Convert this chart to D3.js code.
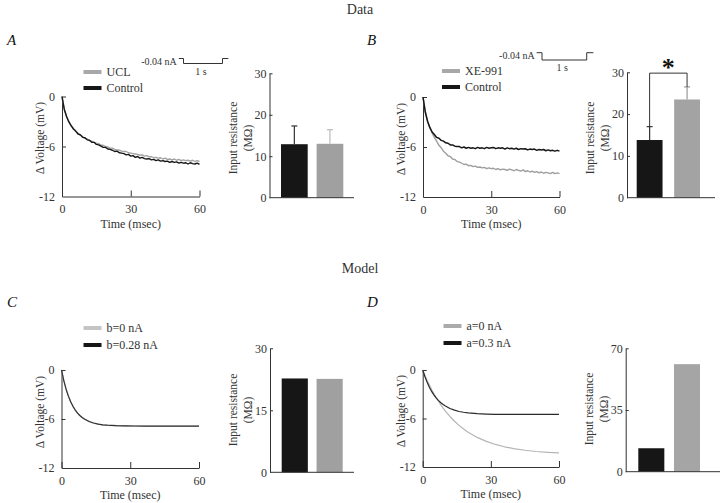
<!DOCTYPE html>
<html><head><meta charset="utf-8">
<script src="https://cdn.jsdelivr.net/npm/d3@7"></script>
<style>
body{margin:0;background:#fff}
svg{display:block;background:#fff}
text{font-family:"Liberation Serif","Times New Roman",serif}
</style>
</head><body>
<svg id="c" width="720" height="503"></svg>
<script>
// ---------- DATA ----------
const timeTicks = [0, 30, 60];
const voltTicks = [0, -6, -12];
const timeData = [0,1,2,3,4,5,6,7,8,9,10,11,12,13,14,15,16,17,18,19,20,21,22,23,24,25,26,27,28,29,30,
  31,32,33,34,35,36,37,38,39,40,41,42,43,44,45,46,47,48,49,50,51,52,53,54,55,56,57,58,59,60];

const controlA = [0,-1.55,-2.4,-3.05,-3.5,-3.9,-4.15,-4.5,-4.6,-4.9,-4.95,-5.2,-5.25,-5.5,-5.5,-5.75,-5.8,-5.95,-6.1,-6.1,-6.3,
  -6.35,-6.45,-6.6,-6.55,-6.75,-6.8,-6.85,-7.0,-6.95,-7.15,-7.1,-7.3,-7.2,-7.4,-7.3,-7.45,-7.5,-7.45,-7.6,-7.55,
  -7.7,-7.6,-7.75,-7.7,-7.8,-7.75,-7.9,-7.8,-7.9,-7.85,-8.0,-7.9,-8.0,-7.95,-8.1,-7.95,-8.05,-8.1,-8.0,-8.15];
const uclA = [0,-1.5,-2.45,-3.0,-3.55,-3.85,-4.2,-4.4,-4.65,-4.8,-5.0,-5.1,-5.3,-5.35,-5.5,-5.6,-5.65,-5.85,-5.85,-6.0,-6.05,
  -6.2,-6.2,-6.35,-6.4,-6.45,-6.55,-6.6,-6.6,-6.75,-6.8,-6.85,-6.9,-6.95,-7.05,-7.0,-7.15,-7.1,-7.25,-7.2,-7.35,
  -7.3,-7.4,-7.35,-7.5,-7.4,-7.55,-7.5,-7.6,-7.5,-7.65,-7.55,-7.7,-7.6,-7.7,-7.65,-7.75,-7.65,-7.8,-7.7,-7.8];
const controlB = [0,-1.8,-2.9,-3.65,-4.2,-4.5,-4.85,-4.95,-5.2,-5.3,-5.5,-5.55,-5.75,-5.75,-5.9,-5.95,-5.95,-6.1,-6.0,-6.15,-6.05,
  -6.15,-6.1,-6.2,-6.05,-6.15,-6.1,-6.2,-6.05,-6.15,-6.1,-6.05,-6.2,-6.1,-6.15,-6.1,-6.25,-6.1,-6.2,-6.15,-6.25,
  -6.15,-6.3,-6.2,-6.25,-6.2,-6.35,-6.25,-6.3,-6.25,-6.4,-6.3,-6.35,-6.3,-6.45,-6.35,-6.45,-6.4,-6.5,-6.4,-6.5];
const xe991B = [0,-1.75,-2.95,-3.7,-4.3,-4.85,-5.3,-5.8,-6.1,-6.5,-6.75,-7.05,-7.15,-7.45,-7.5,-7.75,-7.8,-7.95,-8.1,-8.05,-8.25,
  -8.2,-8.35,-8.3,-8.45,-8.4,-8.5,-8.45,-8.6,-8.5,-8.6,-8.55,-8.7,-8.6,-8.75,-8.65,-8.7,-8.8,-8.65,-8.75,-8.85,
  -8.7,-8.8,-8.9,-8.75,-8.95,-8.85,-9.0,-8.9,-9.05,-8.95,-9.1,-9.0,-9.15,-9.05,-9.1,-9.2,-9.05,-9.2,-9.1,-9.2];

const timeModel = [0,1,2,3,4,5,6,7,8,9,10,12,14,16,18,20,24,28,32,36,40,45,50,55,60];
const b0C   = [0,-1.28,-2.34,-3.19,-3.88,-4.44,-4.9,-5.27,-5.57,-5.81,-6.01,-6.3,-6.5,-6.63,-6.72,-6.77,-6.83,-6.86,-6.87,-6.88,-6.88,-6.88,-6.88,-6.88,-6.88];
const b028C = [0,-1.29,-2.35,-3.2,-3.89,-4.45,-4.9,-5.27,-5.57,-5.81,-6.01,-6.3,-6.49,-6.62,-6.71,-6.76,-6.82,-6.85,-6.86,-6.87,-6.87,-6.87,-6.87,-6.87,-6.87];
const a0D   = [0,-0.67,-1.3,-1.89,-2.45,-2.96,-3.45,-3.9,-4.32,-4.72,-5.09,-5.75,-6.34,-6.85,-7.3,-7.7,-8.34,-8.83,-9.21,-9.5,-9.72,-9.93,-10.08,-10.18,-10.26];
const a03D  = [0,-0.84,-1.56,-2.16,-2.68,-3.11,-3.48,-3.79,-4.05,-4.27,-4.46,-4.76,-4.97,-5.13,-5.23,-5.31,-5.4,-5.45,-5.48,-5.49,-5.5,-5.5,-5.5,-5.5,-5.5];

const barCatsA = ["Control", "UCL"];
const barValsA = [12.9, 13.0];
const barErrA  = [4.4, 3.4];
const barTicksA = [0, 10, 20, 30];
const barCatsB = ["Control", "XE-991"];
const barValsB = [13.8, 23.5];
const barErrB  = [3.2, 3.0];
const barTicksB = [0, 10, 20, 30];
const barCatsC = ["b=0.28 nA", "b=0 nA"];
const barValsC = [22.7, 22.6];
const barTicksC = [0, 15, 30];
const barCatsD = ["a=0.3 nA", "a=0 nA"];
const barValsD = [13.3, 61.0];
const barTicksD = [0, 35, 70];

const stimTime = [-0.12, 0, 0, 1, 1, 1.15];
const stimAmp  = [0, 0, -0.04, -0.04, 0, 0];

// ---------- DRAWING ----------
const svg = d3.select("#c");
const DARK = "#161616";
const TXT = "#333";
const fmt = d => String(d);

function styleAxis(sel, fs){
  sel.selectAll("path.domain").attr("stroke", "#333").attr("stroke-width", 1);
  sel.selectAll(".tick line").attr("stroke", "#333");
  sel.selectAll(".tick text").attr("font-size", fs).attr("fill", TXT)
     .attr("font-family", '"Liberation Serif","Times New Roman",serif');
}

function txt(g){ return g.append("text").attr("fill", TXT); }

function linePanel(o){
  const x = d3.scaleLinear().domain([0, 60]).range([o.left, o.right]);
  const y = d3.scaleLinear().domain([0, -12]).range([o.top, o.bottom]);
  const g = svg.append("g");
  const xa = g.append("g").attr("transform", `translate(0,${o.bottom})`)
    .call(d3.axisBottom(x).tickValues(timeTicks).tickFormat(fmt).tickSize(-6).tickSizeOuter(0).tickPadding(8));
  styleAxis(xa, 12);
  const ya = g.append("g").attr("transform", `translate(${o.left},0)`)
    .call(d3.axisLeft(y).tickValues(voltTicks).tickFormat(fmt).tickSize(-4).tickSizeOuter(0).tickPadding(7));
  styleAxis(ya, 12);
  ya.selectAll(".tick").filter(d => d === -12).select("line").remove();
  const line = d3.line().x(d => x(d[0])).y(d => y(d[1]));
  o.series.forEach(s => {
    g.append("path").datum(s.t.map((t, i) => [t, s.v[i]]))
      .attr("d", line).attr("fill", "none").attr("stroke", s.color)
      .attr("stroke-width", s.w).attr("stroke-linejoin", "round");
  });
  txt(g).attr("x", (o.left + o.right) / 2).attr("y", o.bottom + 31)
    .attr("text-anchor", "middle").attr("font-size", 12).text("Time (msec)");
  txt(g).attr("transform", `translate(${o.left - 22},${o.labelCy}) rotate(-90)`)
    .attr("text-anchor", "middle").attr("dy", "0.35em").attr("font-size", 11.5).text("\u0394 Voltage (mV)");
  o.legend.forEach((l, i) => {
    const ly = o.legY + i * o.legGap;
    g.append("line").attr("x1", o.legX).attr("x2", o.legX + 18).attr("y1", ly).attr("y2", ly)
      .attr("stroke", l.color).attr("stroke-width", 4);
    txt(g).attr("x", o.legX + 23).attr("y", ly).attr("dy", "0.35em")
      .attr("font-size", 12).text(l.label);
  });
}

function barPanel(o){
  const x = d3.scaleBand().domain(o.cats).range([o.b0, o.b1]).paddingInner(o.pad).paddingOuter(0);
  const y = d3.scaleLinear().domain([0, o.max]).range([o.bottom, o.top]);
  const g = svg.append("g");
  g.selectAll("rect.bar").data(o.cats).join("rect").attr("class", "bar")
    .attr("x", d => x(d)).attr("width", x.bandwidth())
    .attr("y", (d, i) => y(o.vals[i])).attr("height", (d, i) => y(0) - y(o.vals[i]))
    .attr("fill", (d, i) => o.colors[i]);
  if (o.errs) {
    o.cats.forEach((c, i) => {
      const cx = x(c) + x.bandwidth() / 2;
      const top = y(o.vals[i] + o.errs[i]);
      g.append("line").attr("x1", cx).attr("x2", cx).attr("y1", y(o.vals[i])).attr("y2", top)
        .attr("stroke", o.errColors[i]).attr("stroke-width", 1.2);
      g.append("line").attr("x1", cx - 3).attr("x2", cx + 3).attr("y1", top).attr("y2", top)
        .attr("stroke", o.errColors[i]).attr("stroke-width", 1.2);
    });
  }
  const ya = g.append("g").attr("transform", `translate(${o.axisX},0)`)
    .call(d3.axisLeft(y).tickValues(o.ticks).tickFormat(fmt).tickSize(-3).tickSizeOuter(0).tickPadding(3));
  styleAxis(ya, 12);
  ya.selectAll(".tick").filter(d => d === 0).select("line").remove();
  g.append("line").attr("x1", o.axisX).attr("x2", o.xEnd).attr("y1", o.bottom).attr("y2", o.bottom)
    .attr("stroke", "#333").attr("stroke-width", 1);
  const cy = o.labelCy;
  txt(g).attr("transform", `translate(${o.axisX - 37},${cy}) rotate(-90)`)
    .attr("text-anchor", "middle").attr("dy", "0.35em").attr("font-size", 11.5).text("Input  resistance");
  txt(g).attr("transform", `translate(${o.axisX - 22},${cy}) rotate(-90)`)
    .attr("text-anchor", "middle").attr("dy", "0.35em").attr("font-size", 11.5).text("(M\u03A9)");
  return {x, y, g};
}

function stimulus(o){
  const sx = d3.scaleLinear().domain([0, 1]).range([o.x0, o.x1]);
  const sy = d3.scaleLinear().domain([0, -0.04]).range([o.top, o.bot]);
  const pts = stimTime.map((t, i) => [t, stimAmp[i]]);
  svg.append("path").datum(pts).attr("d", d3.line().x(d => sx(d[0])).y(d => sy(d[1])))
    .attr("fill", "none").attr("stroke", "#333").attr("stroke-width", 1);
  txt(svg).attr("x", sx(-0.12) - 2).attr("y", o.textY).attr("dy", "0.35em")
    .attr("text-anchor", "end").attr("font-size", 10).text("-0.04 nA");
  txt(svg).attr("x", sx(0.45)).attr("y", o.sY).attr("dy", "0.35em")
    .attr("text-anchor", "middle").attr("font-size", 10).text("1 s");
}

// titles
txt(svg).attr("x", 360).attr("y", 9).attr("dy", "0.35em").attr("text-anchor", "middle")
  .attr("font-size", 14).text("Data");
txt(svg).attr("x", 360).attr("y", 268).attr("dy", "0.35em").attr("text-anchor", "middle")
  .attr("font-size", 14).text("Model");
[["A", 7, 40], ["B", 367, 40], ["C", 7, 302], ["D", 367, 302]].forEach(p => {
  svg.append("text").attr("x", p[1]).attr("y", p[2]).attr("dy", "0.35em")
    .attr("font-family", '"Liberation Sans",Arial,sans-serif').attr("font-style", "italic")
    .attr("font-size", 15).attr("fill", "#111").text(p[0]);
});

// Panel A
linePanel({left: 62, right: 199.5, top: 96.5, bottom: 196.5, labelCy: 138,
  series: [{t: timeData, v: uclA, color: "#a3a3a3", w: 1.4}, {t: timeData, v: controlA, color: DARK, w: 1.4}],
  legend: [{label: "UCL", color: "#a8a8a8"}, {label: "Control", color: DARK}],
  legX: 83.5, legY: 72, legGap: 16});
stimulus({x0: 183.5, x1: 222.5, top: 58.5, bot: 63.5, textY: 61.5, sY: 71.5});
barPanel({cats: barCatsA, vals: barValsA, errs: barErrA, colors: [DARK, "#a0a0a0"], errColors: ["#333", "#bbb"],
  b0: 281, b1: 343.3, pad: 0.25, max: 30, top: 73.3, bottom: 197.7, axisX: 269.5, xEnd: 354,
  ticks: barTicksA, labelCy: 138});

// Panel B
linePanel({left: 423, right: 559.5, top: 97, bottom: 197, labelCy: 139,
  series: [{t: timeData, v: xe991B, color: "#9e9e9e", w: 1.4}, {t: timeData, v: controlB, color: DARK, w: 1.5}],
  legend: [{label: "XE-991", color: "#a8a8a8"}, {label: "Control", color: DARK}],
  legX: 442, legY: 71, legGap: 16});
stimulus({x0: 542, x1: 586.7, top: 52.7, bot: 60, textY: 55.5, sY: 67});
const pb = barPanel({cats: barCatsB, vals: barValsB, errs: barErrB, colors: [DARK, "#a3a3a3"], errColors: ["#333", "#999"],
  b0: 636.7, b1: 700, pad: 0.31, max: 30, top: 72.3, bottom: 197.7, axisX: 627, xEnd: 715,
  ticks: barTicksB, labelCy: 138});
{
  const c0 = pb.x(barCatsB[0]) + pb.x.bandwidth() / 2;
  const c1 = pb.x(barCatsB[1]) + pb.x.bandwidth() / 2;
  const yTop = pb.y(29.8);
  pb.g.append("path")
    .attr("d", `M${c0},${pb.y(barValsB[0] + barErrB[0])}V${yTop}H${c1}V${pb.y(barValsB[1] + barErrB[1])}`)
    .attr("fill", "none").attr("stroke", "#333").attr("stroke-width", 1);
  pb.g.append("text").attr("x", (c0 + c1) / 2).attr("y", yTop + 3).attr("text-anchor", "middle")
    .attr("font-family", '"DejaVu Sans","Liberation Sans",sans-serif').attr("font-weight", "bold")
    .attr("font-size", 26).attr("fill", "#111").text("*");
}

// Panel C
linePanel({left: 61.5, right: 199, top: 370, bottom: 468, labelCy: 412,
  series: [{t: timeModel, v: b0C, color: "#bbbbbb", w: 1.3}, {t: timeModel, v: b028C, color: "#333", w: 1.2}],
  legend: [{label: "b=0 nA", color: "#c4c4c4"}, {label: "b=0.28 nA", color: DARK}],
  legX: 83.5, legY: 328, legGap: 17});
barPanel({cats: barCatsC, vals: barValsC, colors: [DARK, "#a0a0a0"],
  b0: 281.7, b1: 342.7, pad: 0.25, max: 30, top: 348.3, bottom: 472.3, axisX: 270, xEnd: 354,
  ticks: barTicksC, labelCy: 410});

// Panel D
linePanel({left: 422.7, right: 559, top: 370, bottom: 467, labelCy: 411,
  series: [{t: timeModel, v: a0D, color: "#b5b5b5", w: 1.2}, {t: timeModel, v: a03D, color: "#2a2a2a", w: 1.2}],
  legend: [{label: "a=0 nA", color: "#ababab"}, {label: "a=0.3 nA", color: DARK}],
  legX: 443.5, legY: 326, legGap: 17});
barPanel({cats: barCatsD, vals: barValsD, colors: [DARK, "#a5a5a5"],
  b0: 638.3, b1: 700, pad: 0.27, max: 70, top: 348.3, bottom: 471.7, axisX: 625.7, xEnd: 720,
  ticks: barTicksD, labelCy: 409});
</script>
</body></html>
